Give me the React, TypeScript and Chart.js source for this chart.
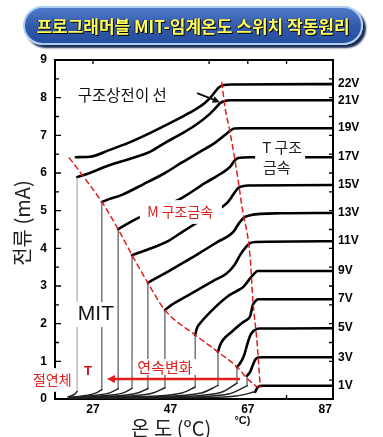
import React, { useEffect, useRef } from 'react';
import { Chart, registerables } from 'chart.js';

Chart.register(...registerables);

// ---------- axis ticks ----------
const xTickValues = [27, 47, 67, 87];
const yTickValues = [0, 1, 2, 3, 4, 5, 6, 7, 8, 9];
const leftInnerTicks = [0.5, 1, 1.5, 2, 2.5, 3, 3.5, 4, 4.5, 5, 5.5, 6, 6.5, 7, 7.5, 8, 8.5];
const rightInnerTicks = [0.5, 1, 1.5, 2, 2.5, 3, 3.5, 4, 4.5, 5, 5.5, 6, 6.5, 7, 7.5, 8, 8.5];
const topInnerTicks = [27, 57, 67, 77];
const bottomInnerTicks = [77];

// ---------- voltage labels (right side) ----------
const voltageLabels = ['22V', '21V', '19V', '17V', '15V', '13V', '11V', '9V', '7V', '5V', '3V', '1V'];
const voltageLevels = [8.36, 7.91, 7.19, 6.42, 5.68, 4.94, 4.19, 3.4, 2.65, 1.88, 1.11, 0.35];

// ---------- curves: [temperature °C, current mA] ----------
const ins22V: number[][] = [];
const metal22V = [[22.6, 6.42], [26.2, 6.43], [31, 6.6], [36.6, 6.82], [41.7, 7.06], [47, 7.33], [52, 7.6], [55.9, 7.86], [57.5, 8.02], [58.5, 8.15], [59.5, 8.27], [60.6, 8.33], [63, 8.35], [89, 8.36]];

const ins21V = [[20.5, 0.05], [21.8, 0.1], [22.5, 0.15], [22.9, 0.2]];
const metal21V = [[22.9, 5.89], [26.2, 6.0], [31, 6.2], [36.6, 6.38], [41.7, 6.56], [45.6, 6.8], [50, 7.05], [53.9, 7.3], [57.2, 7.57], [59.0, 7.76], [59.8, 7.85], [61, 7.91], [62.4, 7.93], [89, 7.93]];

const ins19V = [[21, 0.04], [25, 0.09], [28, 0.17], [29.3, 0.25]];
const metal19V = [[29.3, 5.23], [31, 5.3], [34.5, 5.42], [40, 5.7], [45.6, 6.0], [50, 6.28], [54.6, 6.56], [58.5, 6.8], [61.1, 7.01], [62.4, 7.12], [63.5, 7.18], [65, 7.19], [89, 7.19]];

const ins17V = [[21, 0.04], [27, 0.09], [31.5, 0.17], [33.5, 0.27]];
const metal17V = [[33.5, 4.51], [35.5, 4.63], [38.6, 4.8], [44, 5.05], [50.0, 5.34], [55.9, 5.73], [60, 5.98], [62.4, 6.16], [63.5, 6.32], [64.5, 6.4], [67.6, 6.42], [89, 6.42]];

const ins15V = [[21, 0.03], [29, 0.08], [35, 0.17], [37.1, 0.28]];
const metal15V = [[37.1, 3.82], [38.5, 3.87], [42, 4.0], [46.0, 4.17], [50, 4.43], [54.6, 4.73], [58.5, 4.98], [61.6, 5.2], [63.2, 5.42], [64.3, 5.58], [65.0, 5.63], [67, 5.67], [89, 5.68]];

const ins13V = [[21, 0.03], [31, 0.07], [38.5, 0.16], [41.2, 0.28]];
const metal13V = [[41.2, 3.08], [42.5, 3.16], [46, 3.36], [50, 3.6], [54.6, 3.88], [59, 4.16], [63.2, 4.43], [64.5, 4.63], [65.8, 4.8], [67.6, 4.88], [75.3, 4.93], [89, 4.94]];

const ins11V = [[21.5, 0.03], [33, 0.06], [42.5, 0.16], [45.6, 0.3]];
const metal11V = [[45.6, 2.36], [47.3, 2.5], [51, 2.72], [54.6, 2.93], [58, 3.13], [61.6, 3.34], [63.5, 3.55], [65.0, 3.82], [66.5, 4.03], [67.6, 4.14], [68.9, 4.17], [89, 4.19]];

const ins9V = [[22, 0.02], [38, 0.06], [50, 0.16], [53.4, 0.32]];
const metal9V = [[53.4, 1.7], [53.9, 1.89], [55, 2.05], [58, 2.38], [61.6, 2.71], [64, 2.86], [65.8, 2.97], [67.2, 3.15], [68.3, 3.29], [69.6, 3.4], [89, 3.4]];

const ins7V = [[22, 0.02], [42, 0.06], [55, 0.16], [59.3, 0.36]];
const metal7V = [[59.3, 1.25], [59.8, 1.42], [60.6, 1.57], [63, 1.8], [65.8, 2.04], [67.0, 2.12], [67.6, 2.2], [68.3, 2.5], [69.0, 2.6], [69.6, 2.65], [89, 2.65]];

const ins5V = [[23, 0.02], [45, 0.05], [60, 0.17], [64.2, 0.42]];
const metal5V = [[64.2, 0.85], [65.0, 0.95], [66.0, 1.15], [67.0, 1.5], [67.8, 1.72], [68.8, 1.83], [70, 1.87], [89, 1.88]];

const ins3V = [[23, 0.02], [48, 0.04], [62, 0.13], [66.8, 0.35]];
const metal3V = [[66.8, 0.62], [67.6, 0.72], [68.3, 0.9], [68.9, 1.04], [69.6, 1.1], [71, 1.11], [89, 1.11]];

const ins1V = [[24, 0.01], [50, 0.03], [64, 0.08], [68.9, 0.19]];
const metal1V = [[68.9, 0.19], [69.6, 0.32], [70.7, 0.35], [89, 0.35]];

// ---------- boundary lines (red dashed) ----------
const mitBoundary = [[20.9, 6.4], [22.9, 6.13], [29.3, 5.23], [33.5, 4.51], [37.1, 3.82], [41.2, 3.08], [45.6, 2.36], [53.4, 1.7], [59.3, 1.25], [64.2, 0.85], [66.8, 0.55], [69.4, 0.32]];
const structBoundary = [[60.3, 8.4], [61.1, 7.75], [62.4, 7.09], [64.5, 5.81], [65.5, 5.1], [67.6, 3.77], [68.3, 2.63], [69.4, 1.49], [70.2, 0.32]];

const curveSets = [
  { ins: ins22V, metal: metal22V, jump: '#9a9a9a' },
  { ins: ins21V, metal: metal21V, jump: '#9a9a9a' },
  { ins: ins19V, metal: metal19V, jump: '#333' },
  { ins: ins17V, metal: metal17V, jump: '#333' },
  { ins: ins15V, metal: metal15V, jump: '#333' },
  { ins: ins13V, metal: metal13V, jump: '#333' },
  { ins: ins11V, metal: metal11V, jump: '#333' },
  { ins: ins9V, metal: metal9V, jump: '#333' },
  { ins: ins7V, metal: metal7V, jump: '#333' },
  { ins: ins5V, metal: metal5V, jump: '#333' },
  { ins: ins3V, metal: metal3V, jump: '#333' },
  { ins: ins1V, metal: metal1V, jump: '#333' },
];

const RED = '#e01e1e';
const KR = '"Noto Sans CJK KR", "Noto Sans", sans-serif';
const NUM = '"Liberation Sans", Arial, sans-serif';

const annotationPlugin = {
  id: 'mitAnnotations',
  beforeDatasetsDraw(chart: any) {
    const { ctx, chartArea: a, scales } = chart;
    const xs = scales.x;
    const ys = scales.y;
    ctx.save();
    ctx.strokeStyle = '#000';
    ctx.lineWidth = 2;
    ctx.strokeRect(a.left, a.top, a.right - a.left, a.bottom - a.top);
    ctx.lineWidth = 1.3;
    ctx.beginPath();
    for (const v of leftInnerTicks) {
      const y = ys.getPixelForValue(v);
      const len = Number.isInteger(v) ? 6 : 4;
      ctx.moveTo(a.left, y);
      ctx.lineTo(a.left + len, y);
    }
    for (const v of rightInnerTicks) {
      const y = ys.getPixelForValue(v);
      ctx.moveTo(a.right, y);
      ctx.lineTo(a.right - 4, y);
    }
    for (const t of topInnerTicks) {
      const x = xs.getPixelForValue(t);
      ctx.moveTo(x, a.top);
      ctx.lineTo(x, a.top + 4);
    }
    for (const t of bottomInnerTicks) {
      const x = xs.getPixelForValue(t);
      ctx.moveTo(x, a.bottom);
      ctx.lineTo(x, a.bottom - 4);
    }
    ctx.stroke();
    ctx.restore();
  },
  afterDatasetsDraw(chart: any) {
    const { ctx, scales } = chart;
    const px = (t: number) => scales.x.getPixelForValue(t);
    const py = (v: number) => scales.y.getPixelForValue(v);
    ctx.save();

    const box = (t1: number, v1: number, t2: number, v2: number) => {
      ctx.fillStyle = '#fff';
      const x1 = px(t1), x2 = px(t2), y1 = py(v1), y2 = py(v2);
      ctx.fillRect(Math.min(x1, x2), Math.min(y1, y2), Math.abs(x2 - x1), Math.abs(y2 - y1));
    };
    const text = (s: string, t: number, v: number, font: string, color: string, align: CanvasTextAlign = 'left') => {
      ctx.font = font;
      ctx.fillStyle = color;
      ctx.textAlign = align;
      ctx.textBaseline = 'middle';
      ctx.fillText(s, px(t), py(v));
    };
    const arrow = (t1: number, v1: number, t2: number, v2: number, color: string, w: number, head: number) => {
      const x1 = px(t1), y1 = py(v1), x2 = px(t2), y2 = py(v2);
      const ang = Math.atan2(y2 - y1, x2 - x1);
      ctx.strokeStyle = color;
      ctx.fillStyle = color;
      ctx.lineWidth = w;
      ctx.beginPath();
      ctx.moveTo(x1, y1);
      ctx.lineTo(x2 - Math.cos(ang) * head * 0.7, y2 - Math.sin(ang) * head * 0.7);
      ctx.stroke();
      ctx.beginPath();
      ctx.moveTo(x2, y2);
      ctx.lineTo(x2 - head * Math.cos(ang - 0.45), y2 - head * Math.sin(ang - 0.45));
      ctx.lineTo(x2 - head * Math.cos(ang + 0.45), y2 - head * Math.sin(ang + 0.45));
      ctx.closePath();
      ctx.fill();
    };

    // structural transition line label + arrow
    text('구조상전이 선', 23.1, 8.07, `15.5px ${KR}`, '#111');
    arrow(53.9, 8.12, 59.8, 7.88, '#111', 2, 8);

    // M-structure metal
    box(39.1, 5.28, 60.3, 4.65);
    text('M 구조금속', 41.0, 4.96, `14px ${KR}`, RED);

    // T-structure metal
    box(68.9, 6.96, 81.8, 5.89);
    text('T 구조', 70.7, 6.69, `15px ${KR}`, '#222');
    text('금속', 70.9, 6.16, `15px ${KR}`, '#222');

    // MIT
    box(22.6, 2.57, 32.4, 1.91);
    text('MIT', 23.1, 2.24, `21px ${NUM}`, '#111');

    // insulator
    box(11.0, 0.82, 22.3, 0.19);
    text('절연체', 11.5, 0.5, `14px ${KR}`, RED);
    text('T', 25.7, 0.74, `bold 13px ${NUM}`, '#cc1010', 'center');

    // continuous change
    box(37.3, 1.06, 53.9, 0.64);
    text('연속변화', 45.6, 0.85, `15px ${KR}`, RED, 'center');
    arrow(65.0, 0.53, 30.6, 0.53, RED, 2.5, 9);

    // axis titles
    text('온 도 (ºC)', 47.2, -0.77, `20px ${KR}`, '#222', 'center');
    text('°C)', 65.6, -0.57, `bold 11px ${NUM}`, '#111', 'center');
    ctx.save();
    ctx.translate(px(8.9), py(4.67));
    ctx.rotate(-Math.PI / 2);
    ctx.font = `20px ${KR}`;
    ctx.fillStyle = '#222';
    ctx.textAlign = 'center';
    ctx.textBaseline = 'middle';
    ctx.fillText('전류 (mA)', 0, 0);
    ctx.restore();

    ctx.restore();
  },
};

export default function App() {
  const canvasRef = useRef<HTMLCanvasElement | null>(null);

  useEffect(() => {
    if (!canvasRef.current) return;
    const datasets: any[] = [];
    datasets.push({
      data: mitBoundary, borderColor: RED, borderWidth: 1.5, borderDash: [5, 4],
      cubicInterpolationMode: 'monotone', order: -1,
    });
    datasets.push({
      data: structBoundary, borderColor: RED, borderWidth: 1.5, borderDash: [5, 4],
      cubicInterpolationMode: 'monotone', order: -1,
    });
    for (const c of curveSets) {
      if (c.ins.length) {
        datasets.push({ data: c.ins, borderColor: '#222', borderWidth: 1.5, cubicInterpolationMode: 'monotone' });
        const last = c.ins[c.ins.length - 1];
        const first = c.metal[0];
        datasets.push({ data: [[first[0], last[1]], first], borderColor: c.jump, borderWidth: 1 });
      }
      datasets.push({ data: c.metal, borderColor: '#000', borderWidth: 2.6, cubicInterpolationMode: 'monotone' });
    }

    const tickFont = { family: NUM, size: 12, weight: 'bold' as const };

    const chart = new Chart(canvasRef.current, {
      type: 'line',
      data: { datasets },
      options: {
        responsive: false,
        animation: false,
        devicePixelRatio: 1,
        layout: { padding: { top: 60, left: 0, right: 0, bottom: 0 } },
        plugins: { legend: { display: false }, tooltip: { enabled: false } },
        elements: {
          point: { radius: 0 },
          line: { borderCapStyle: 'round', borderJoinStyle: 'round', fill: false },
        },
        scales: {
          x: {
            type: 'linear', min: 17.2, max: 89,
            grid: { display: false, drawTicks: false }, border: { display: false },
            afterBuildTicks: (s: any) => { s.ticks = xTickValues.map((v) => ({ value: v })); },
            afterFit: (s: any) => { s.height = 38; },
            ticks: { font: tickFont, color: '#000', padding: 3, autoSkip: false, maxRotation: 0 },
          },
          y: {
            type: 'linear', position: 'left', min: 0, max: 9,
            grid: { display: false, drawTicks: false }, border: { display: false },
            afterBuildTicks: (s: any) => { s.ticks = yTickValues.map((v) => ({ value: v })); },
            afterFit: (s: any) => { s.width = 55; },
            ticks: { font: tickFont, color: '#000', padding: 8, autoSkip: false },
          },
          y2: {
            type: 'linear', position: 'right', min: 0, max: 9,
            grid: { display: false, drawTicks: false }, border: { display: false },
            afterBuildTicks: (s: any) => { s.ticks = voltageLevels.map((v) => ({ value: v })); },
            afterFit: (s: any) => { s.width = 50; },
            ticks: {
              font: tickFont, color: '#000', padding: 5, autoSkip: false,
              callback: (_v: any, i: number) => voltageLabels[i],
            },
          },
        },
      } as any,
      plugins: [annotationPlugin],
    });
    return () => chart.destroy();
  }, []);

  return (
    <div style={{ position: 'absolute', left: 0, top: 0, width: 383, height: 437, background: '#fff', overflow: 'hidden' }}>
      <canvas ref={canvasRef} width={383} height={437} style={{ position: 'absolute', left: 0, top: 0 }} />
      <div
        style={{
          position: 'absolute', left: 23, top: 6, width: 336, height: 35,
          borderRadius: 20, border: '2px solid #a9cdf2',
          background: 'linear-gradient(#5079c8, #3159aa 55%, #264e9e)',
          boxShadow: '3px 3px 2px #1b2b55',
          display: 'flex', alignItems: 'center', justifyContent: 'center',
          color: '#ffff5e', fontWeight: 700, fontSize: 17, fontFamily: KR,
          textShadow: '1px 1px 0 #000, -1px 0 0 #223', whiteSpace: 'nowrap', letterSpacing: 0,
        }}
      >
        프로그래머블 MIT-임계온도 스위치 작동원리
      </div>
    </div>
  );
}
